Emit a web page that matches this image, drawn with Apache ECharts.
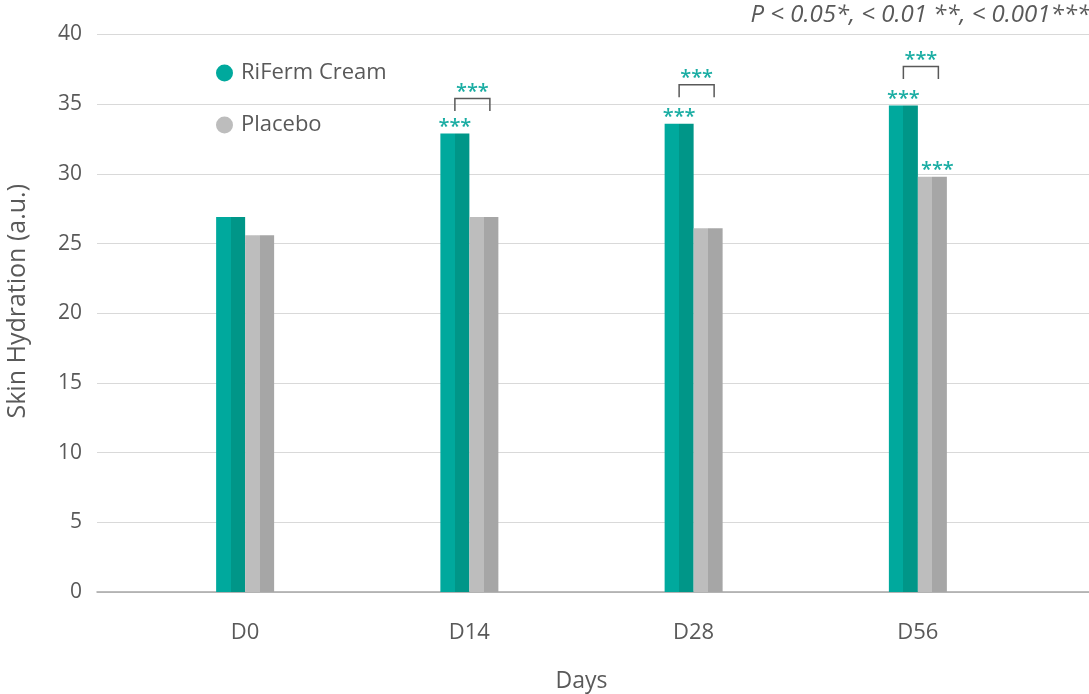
<!DOCTYPE html>
<html>
<head>
<meta charset="utf-8">
<script src="https://cdn.jsdelivr.net/npm/echarts@6/dist/echarts.min.js"></script>
<style>
  html, body { margin: 0; padding: 0; background: #ffffff; }
  #chart { width: 1089px; height: 694px; }
</style>
</head>
<body>
<div id="chart"></div>
<script>
// Skin hydration by visit day
const days = ['D0', 'D14', 'D28', 'D56'];
const rifermValues = [26.9, 32.9, 33.6, 34.9];
const placeboValues = [25.6, 26.9, 26.1, 29.8];

// Significance markers above each bar (vs. baseline)
const rifermSig = ['', '***', '***', '***'];
const placeboSig = ['', '', '', '***'];

// Between-group comparisons: marker and bracket level (a.u.)
const bracketSig = ['', '***', '***', '***'];
const bracketLevels = [null, 35.4, 36.4, 37.7];

const yTicks = { min: 0, max: 40, interval: 5 };

const FONT = '"Open Sans", Lato, sans-serif';
const TEXT = '#595959';
const TEAL_L = '#00a99d', TEAL_D = '#009688';
const GREY_L = '#bdbdbd', GREY_D = '#a6a6a6';
const STAR = '#1aada3';
const BAR_W = 29;

function split(c1, c2) {
  return new echarts.graphic.LinearGradient(0, 0, 1, 0, [
    { offset: 0, color: c1 }, { offset: 0.5, color: c1 },
    { offset: 0.5, color: c2 }, { offset: 1, color: c2 }
  ]);
}

const chart = echarts.init(document.getElementById('chart'), null, { renderer: 'canvas' });

const bracketData = [];
bracketLevels.forEach((lv, i) => { if (lv != null) bracketData.push([i, lv, bracketSig[i]]); });

chart.setOption({
  animation: false,
  backgroundColor: '#ffffff',
  textStyle: { fontFamily: FONT },
  title: {
    text: 'P < 0.05*, < 0.01 **, < 0.001***',
    right: -6, top: -2,
    textStyle: { fontFamily: FONT, fontStyle: 'italic', fontWeight: 'normal', fontSize: 24, color: TEXT }
  },
  legend: {
    orient: 'vertical',
    left: 211, top: 57,
    itemWidth: 17, itemHeight: 17, itemGap: 30,
    icon: 'circle',
    textStyle: { fontFamily: FONT, fontSize: 22, lineHeight: 22, color: TEXT, padding: [0, 0, 0, 3] },
    data: [
      { name: 'RiFerm Cream', itemStyle: { color: TEAL_L } },
      { name: 'Placebo', itemStyle: { color: GREY_L } }
    ]
  },
  grid: [
    { left: 97, right: 0, top: 34.5, bottom: 102, outerBoundsMode: 'none', containLabel: false },
    { left: 133, right: 59, top: 34.5, bottom: 102, outerBoundsMode: 'none', containLabel: false }
  ],
  xAxis: [
    {
      type: 'value', gridIndex: 0, min: 0, max: 1,
      axisLabel: { show: false }, axisTick: { show: false }, splitLine: { show: false },
      axisLine: { show: true, lineStyle: { color: '#a6a6a6', width: 1.5 } }
    },
    {
      type: 'category', gridIndex: 1, data: days,
      axisLine: { show: false }, axisTick: { show: false },
      axisLabel: { fontFamily: FONT, fontSize: 22, color: TEXT, margin: 30 },
      name: 'Days', nameLocation: 'middle', nameGap: 78,
      nameTextStyle: { fontFamily: FONT, fontSize: 23, color: TEXT }
    }
  ],
  yAxis: [
    {
      type: 'value', gridIndex: 0, min: yTicks.min, max: yTicks.max, interval: yTicks.interval,
      axisLine: { show: false }, axisTick: { show: false },
      axisLabel: { fontFamily: FONT, fontSize: 21, color: TEXT, margin: 15 },
      splitLine: { lineStyle: { color: '#d9d9d9', width: 1 } },
      name: 'Skin Hydration (a.u.)', nameLocation: 'middle', nameGap: 67, nameRotate: 90,
      nameTextStyle: { fontFamily: FONT, fontSize: 25, color: TEXT, padding: [0, 0, 0, 24] }
    },
    {
      type: 'value', gridIndex: 1, min: yTicks.min, max: yTicks.max, interval: yTicks.interval,
      show: false
    }
  ],
  series: [
    {
      name: 'RiFerm Cream', type: 'bar', xAxisIndex: 1, yAxisIndex: 1,
      barWidth: BAR_W, barGap: '0%',
      data: rifermValues,
      itemStyle: { color: split(TEAL_L, TEAL_D) },
      label: {
        show: true, position: 'top', distance: -4,
        formatter: p => rifermSig[p.dataIndex],
        fontFamily: FONT, fontSize: 20, fontWeight: 600, color: STAR
      }
    },
    {
      name: 'Placebo', type: 'bar', xAxisIndex: 1, yAxisIndex: 1,
      barWidth: BAR_W,
      data: placeboValues,
      itemStyle: { color: split(GREY_L, GREY_D) },
      label: {
        show: true, position: 'top', distance: -4, offset: [5, 0],
        formatter: p => placeboSig[p.dataIndex],
        fontFamily: FONT, fontSize: 20, fontWeight: 600, color: STAR
      }
    },
    {
      name: 'brackets', type: 'custom', xAxisIndex: 1, yAxisIndex: 1,
      silent: true, z: 5,
      data: bracketData,
      renderItem: function (params, api) {
        const c = api.coord([api.value(0), api.value(1)]);
        const x1 = c[0] - BAR_W / 2;
        const x2 = c[0] + BAR_W / 2 + 6;
        const y = c[1];
        const h = 12.5;
        return {
          type: 'group',
          children: [
            {
              type: 'polyline',
              shape: { points: [[x1, y + h], [x1, y], [x2, y], [x2, y + h]] },
              style: { stroke: '#595959', lineWidth: 1.5, fill: null }
            },
            {
              type: 'text',
              style: {
                text: api.value(2), x: (x1 + x2) / 2, y: y + 4,
                align: 'center', verticalAlign: 'bottom',
                fontFamily: FONT, fontSize: 20, fontWeight: 600, fill: STAR
              }
            }
          ]
        };
      }
    }
  ]
});
</script>
</body>
</html>
